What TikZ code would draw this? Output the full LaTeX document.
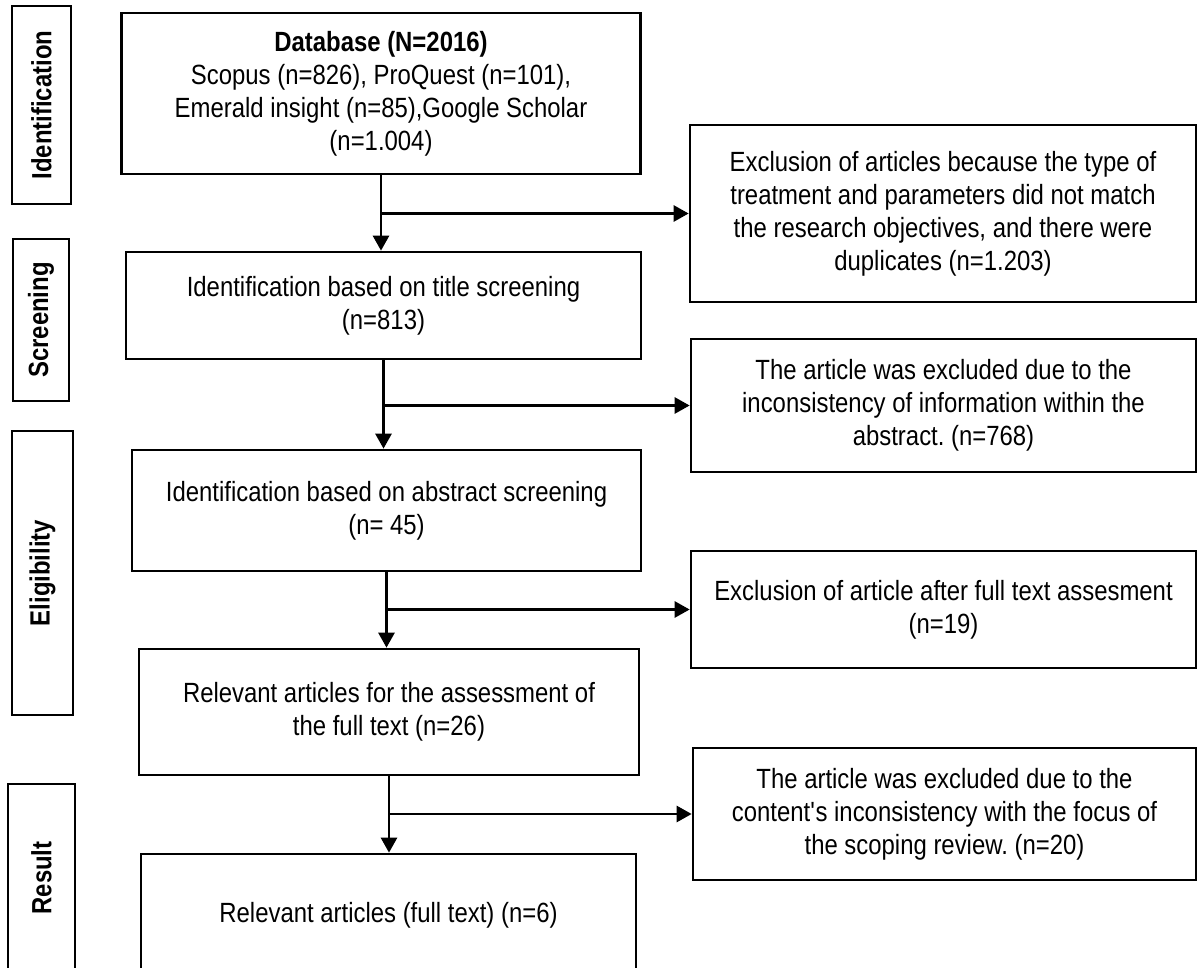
\documentclass[tikz,border=0pt]{standalone}
\usepackage{fontspec}
\setmainfont[FakeStretch=0.86]{Liberation Sans}
\usetikzlibrary{arrows.meta}
\newcommand{\flowfont}{\fontsize{27.8}{33}\selectfont\frenchspacing}
\tikzstyle{stage} = [rectangle, rotate=90,
inner sep=0pt,
draw=black,
line width=2.7pt,
font=\flowfont\bfseries]
\tikzstyle{process} = [rectangle,
inner sep=0pt,
text centered,
align=center,
draw=black,
line width=2.7pt]
\tikzstyle{excluded} = [rectangle,
inner sep=0pt,
text centered,
align=center,
draw=black,
line width=2.7pt]
\tikzstyle{arrow} = [line width=2.7pt,-{Triangle[length=15pt,width=16pt]}]

\begin{document}
\begin{tikzpicture}[x=1pt, y=-1pt, font=\flowfont]
    \useasboundingbox (0,0) rectangle (1198,968);
    \clip (0,0) rectangle (1198,968);
    % stages on the left
    \node (ident) [stage, minimum width=198pt, minimum height=59pt] at (41.5,105) {Identification};
    \node (screen) [stage, minimum width=162pt, minimum height=56pt] at (41,320) {Screening};
    \node (elig) [stage, minimum width=284pt, minimum height=61pt] at (42.5,573) {Eligibility};
    \node (result) [stage, minimum width=188pt, minimum height=67pt] at (41.5,878) {Result};

    % main column
    \node (db) [process, minimum width=519pt, minimum height=161pt] at (381,93.5) {\textbf{Database (N=2016)}\\Scopus (n=826), ProQuest (n=101),\\Emerald insight (n=85),Google Scholar\\(n=1.004)};
    \node (title) [process, minimum width=515pt, minimum height=107pt] at (383.5,305.5) {Identification based on title screening\\(n=813)};
    \node (abst) [process, minimum width=509pt, minimum height=121pt] at (386.5,510.5) {Identification based on abstract screening\\(n= 45)};
    \node (full) [process, minimum width=500pt, minimum height=126pt] at (389,712) {Relevant articles for the assessment of\\the full text (n=26)};
    \node (incl) [process, minimum width=495pt, minimum height=122pt] at (388.5,915) {Relevant articles (full text) (n=6)};

    % excluded records
    \node (ex1) [excluded, minimum width=506pt, minimum height=177pt] at (943,213.5) {Exclusion of articles because the type of\\treatment and parameters did not match\\the research objectives, and there were\\duplicates (n=1.203)};
    \node (ex2) [excluded, minimum width=505pt, minimum height=133pt] at (943.5,405.5) {The article was excluded due to the\\inconsistency of information within the\\abstract. (n=768)};
    \node (ex3) [excluded, minimum width=505pt, minimum height=117pt] at (943.5,609.5) {Exclusion of article after full text assesment\\(n=19)};
    \node (ex4) [excluded, minimum width=503pt, minimum height=132pt] at (944.5,814) {The article was excluded due to the\\content\textquotesingle s inconsistency with the focus of\\the scoping review. (n=20)};

    \draw [arrow] (db.south) -- (db.south |- title.north);
    \draw [arrow] (db.south |- ex1.west) -- (ex1.west);
    \draw [arrow] (title.south) -- (title.south |- abst.north);
    \draw [arrow] (title.south |- ex2.west) -- (ex2.west);
    \draw [arrow] (abst.south) -- (abst.south |- full.north);
    \draw [arrow] (abst.south |- ex3.west) -- (ex3.west);
    \draw [arrow] (full.south) -- (full.south |- incl.north);
    \draw [arrow] (full.south |- ex4.west) -- (ex4.west);
\end{tikzpicture}
\end{document}
